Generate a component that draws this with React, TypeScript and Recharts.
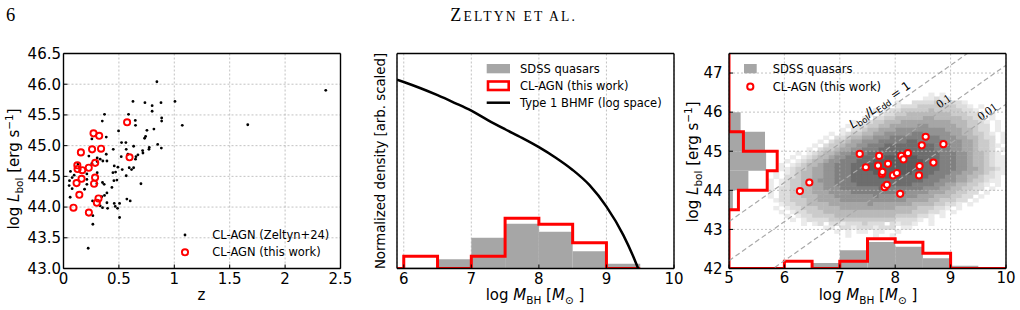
import React from 'react';
import {
  ComposedChart,
  Scatter,
  Line,
  XAxis,
  YAxis,
  CartesianGrid,
  ReferenceArea,
  ReferenceDot,
} from 'recharts';

const FONT = '"DejaVu Sans", Verdana, sans-serif';
const SERIF = '"Liberation Serif", "Times New Roman", serif';

// ---- left panel: redshift vs bolometric luminosity
const zeltyn24: number[][] = [
  [0.843, 46.04], [2.367, 45.9], [0.627, 45.72], [0.735, 45.7], [1.006, 45.72], [0.88, 45.7],
  [0.8, 45.65], [0.8, 45.56], [0.37, 45.51], [0.587, 45.51], [0.35, 45.4], [0.648, 45.41],
  [0.886, 45.45], [0.886, 45.4], [0.65, 45.33], [1.072, 45.33], [1.663, 45.34], [0.753, 45.25],
  [0.816, 45.27], [0.497, 45.24], [0.256, 45.11], [0.386, 45.14], [0.741, 45.15], [0.732, 45.12],
  [0.524, 45.05], [0.563, 45.05], [0.85, 45.02], [0.449, 44.94], [0.566, 44.94], [0.633, 44.99],
  [0.774, 44.97], [0.714, 44.92], [0.883, 44.96], [0.717, 44.88], [0.771, 44.94], [0.229, 44.83],
  [0.386, 44.86], [0.331, 44.78], [0.521, 44.82], [0.654, 44.82], [0.672, 44.85], [0.581, 44.86],
  [0.304, 44.8], [0.392, 44.75], [0.355, 44.75], [0.65, 44.78], [0.256, 44.71], [0.304, 44.74],
  [0.13, 44.7], [0.458, 44.67], [0.491, 44.65], [0.593, 44.64], [0.633, 44.64], [0.063, 44.58],
  [0.096, 44.52], [0.211, 44.54], [0.304, 44.56], [0.446, 44.56], [0.47, 44.57], [0.53, 44.61],
  [0.614, 44.61], [0.566, 44.51], [0.078, 44.48], [0.054, 44.43], [0.211, 44.45], [0.455, 44.43],
  [0.482, 44.44], [0.352, 44.4], [0.367, 44.37], [0.051, 44.35], [0.078, 44.3], [0.211, 44.37],
  [0.301, 44.38], [0.19, 44.29], [0.437, 44.32], [0.699, 44.38], [0.06, 44.16], [0.37, 44.19],
  [0.392, 44.23], [0.346, 44.17], [0.262, 44.1], [0.572, 44.13], [0.602, 44.1], [0.392, 44.07],
  [0.458, 44.06], [0.506, 44.06], [0.331, 44.02], [0.352, 43.99], [0.467, 44.01], [0.488, 43.98],
  [0.398, 43.98], [0.265, 43.86], [0.506, 43.83], [0.265, 43.72], [0.223, 43.33],
];
const clagnZ: number[][] = [
  [0.09, 43.99], [0.229, 43.91], [0.143, 44.2], [0.301, 44.07], [0.316, 44.14], [0.118, 44.39],
  [0.163, 44.46], [0.276, 44.38], [0.285, 44.48], [0.125, 44.68], [0.127, 44.62], [0.169, 44.6],
  [0.228, 44.64], [0.286, 44.72], [0.157, 44.89], [0.258, 44.94], [0.339, 44.95], [0.271, 45.2],
  [0.322, 45.16], [0.574, 45.38], [0.596, 44.81],
];
const zTicks = [0, 0.5, 1, 1.5, 2, 2.5];
const lumTicksLeft = [43, 43.5, 44, 44.5, 45, 45.5, 46, 46.5];

// ---- middle panel: BH mass distributions
const massEdges = [5, 5.5, 6, 6.5, 7, 7.5, 8, 8.5, 9, 9.5, 10];
const sdssMass = [0, 0, 0.03, 0.28, 0.93, 1.35, 1.11, 0.52, 0.14, 0];
const clagnMass = [0, 0, 0.37, 0, 0.37, 1.52, 1.34, 0.78, 0, 0];
const bhmfX = [5.9, 6.0, 6.25, 6.5, 6.75, 7.0, 7.25, 7.5, 7.75, 8.0, 8.25, 8.5, 8.75, 9.0, 9.25, 9.4, 9.47];
const bhmfY = [5.71, 5.64, 5.45, 5.24, 5.01, 4.77, 4.48, 4.21, 3.95, 3.67, 3.35, 2.98, 2.52, 1.87, 1.01, 0.35, 0];
const massTicks = [6, 7, 8, 9, 10];
const densityTicks = [0, 1, 2, 3, 4, 5, 6];

// ---- right panel: mass vs luminosity
const clagnMassLum: number[][] = [
  [6.28, 43.98], [6.45, 44.2], [7.36, 44.93], [7.47, 44.59], [7.69, 44.63], [7.71, 44.88],
  [7.76, 44.42], [7.77, 44.47], [7.87, 44.68], [7.81, 44.08], [7.85, 44.14], [7.96, 44.38],
  [8.03, 44.44], [8.09, 43.91], [8.11, 44.88], [8.15, 44.79], [8.23, 44.95], [8.43, 44.38],
  [8.44, 44.62], [8.48, 45.15], [8.55, 45.37], [8.69, 44.71], [8.87, 45.18],
];
const lumEdges = [42, 42.5, 43, 43.5, 44, 44.5, 45, 45.5, 46, 46.5, 47, 47.5];
const sdssLum = [0, 0, 0, 0.07, 0.35, 0.67, 0.65, 0.21, 0, 0, 0];
const clagnLum = [0, 0, 0, 0.17, 0.69, 0.87, 0.26, 0, 0, 0, 0];
const eddLabels = ['1', '0.1', '0.01'];
const eddOffset = [38.2, 37.2, 36.2];
const eddLabelPos = [[7.72, 46.19], [8.87, 46.29], [9.66, 46.02]];
const massTicksRight = [5, 6, 7, 8, 9, 10];
const lumTicksRight = [42, 43, 44, 45, 46, 47];

// SDSS 2D histogram, 0.1 dex cells, row 0 starts at 46.5 going down, columns from 5.7
// each row: [first column, levels] ('.' = empty, 1 light .. 9 dark)
const HEAT_X0 = 5.7;
const HEAT_TOP = 46.5;
const HEAT_STEP = 0.1;
const heatRows: [number, string][] = [
  [29, '1.1'],
  [28, '11211'],
  [23, '1..2222322221'],
  [21, '1.12223333333221.1'],
  [19, '1.12233333433333221'],
  [18, '1.1223344444444333221.1'],
  [17, '1.22334444455444443322.1'],
  [15, '1.12334445555555554443321.1'],
  [14, '1.223344555556655555443322.1'],
  [13, '1.2234455566666666655544322.1'],
  [11, '1.1233445566666776666655443321.1'],
  [10, '1.22344556667777777776665544322.1'],
  [9, '1.233455666777778877777666554332.1'],
  [8, '1.23345566777888888888777665543321'],
  [7, '1.23345566777888888888877766554332.1'],
  [5, '1.12344566777888889998888877766544321'],
  [4, '1.1234456677788889999998888777665443211'],
  [3, '1.12344566777888999999999888777665443211'],
  [2, '1.123445667778889999999999888777665443211'],
  [2, '11233455667778889999999999888777665543321'],
  [1, '1.1234455667778888999999988887776655443211'],
  [1, '1.223445566777888889999888887776655443221'],
  [0, '1.1233455666777888888888888877766655433211'],
  [0, '1.12334455667777888888888877776655443321.1'],
  [0, '1.2233445566677777778777777766655443322.1'],
  [0, '1.223344555666677777777776666555443322.1'],
  [0, '1.22334445556666666766666665554443322.1'],
  [1, '12233344555566666666666655554433322.1'],
  [2, '122334444555555565555555444433221.1'],
  [1, '1.122333444455555555554444333221.1'],
  [2, '1.1223334444444444444444333221.1'],
  [3, '1.1223333444444444443333221.1'],
  [4, '1.1222233333333333322221.1'],
  [6, '1.12.2212223222.21221..1'],
  [10, '11.2212221222.11'],
  [12, '1.1.11.11..1'],
  [14, '1....1..1'],
];
const heatGrays = ['', '#ebebeb', '#dcdcdc', '#cbcbcb', '#b9b9b9', '#a6a6a6', '#939393', '#808080', '#6d6d6d', '#5c5c5c'];

// ---- layout
const TOP = 53.5;
const PLOT_W = 277;
const PLOT_H = 215;
const BOTTOM_H = 310 - TOP - PLOT_H;
const RIGHT_PAD = 20;
const CELL_W = (HEAT_STEP * PLOT_W) / 5;
const CELL_H = (HEAT_STEP * PLOT_H) / 5.5;
const GRID = '#b3b3b3';
const RED = '#ff0000';
const BAR_GRAY = '#a6a6a6';

const TICK_LINE = { stroke: '#000', strokeWidth: 1 };
const AXIS_LINE = { stroke: '#000', strokeWidth: 1.4 };
const TICK_TEXT = { fill: '#000', fontSize: 15, fontFamily: FONT };

const pts = (arr: number[][]) => arr.map(([x, y]) => ({ x, y }));
const stepPoints = (edges: number[], vals: number[]) =>
  vals.flatMap((v, i) => [{ x: edges[i], y: v }, { x: edges[i + 1], y: v }]);
const stepPointsH = (edges: number[], vals: number[]) =>
  vals.flatMap((v, i) => [{ x: v, y: edges[i] }, { x: v, y: edges[i + 1] }]);

const heatCells = heatRows.flatMap(([start, row], r) =>
  row.split('').flatMap((c, k) =>
    c === '.'
      ? []
      : [{ x: HEAT_X0 + HEAT_STEP * (start + k + 0.5), y: HEAT_TOP - HEAT_STEP * (r + 0.5), v: Number(c) }]
  )
);

const dot = (p: any) => <circle cx={p.cx} cy={p.cy} r={1.4} fill="#000" />;
const ring = (p: any) => <circle cx={p.cx} cy={p.cy} r={3.1} fill="none" stroke={RED} strokeWidth={1.9} />;
const ringWhite = (p: any) => <circle cx={p.cx} cy={p.cy} r={3.1} fill="#fff" stroke={RED} strokeWidth={2} />;
const heatCell = (p: any) => (
  <rect
    x={p.cx - CELL_W / 2}
    y={p.cy - CELL_H / 2}
    width={CELL_W + 0.5}
    height={CELL_H + 0.5}
    fill={heatGrays[p.payload.v]}
  />
);

interface FrameOpts {
  xDomain: number[];
  xTicks: number[];
  yDomain: number[];
  yTicks: number[];
  yw: number;
  xMargin: number;
  yMargin: number;
  yLabels: boolean;
  yFmt?: (v: number) => string;
}

// bottom/left axes with labels, top/right mirrored, ticks pointing in
function frame(o: FrameOpts) {
  return [
    <XAxis key="xb" type="number" dataKey="x" domain={o.xDomain} ticks={o.xTicks} interval={0}
      allowDataOverflow height={BOTTOM_H} tickSize={-4} tickMargin={o.xMargin}
      tick={TICK_TEXT} axisLine={AXIS_LINE} tickLine={TICK_LINE} />,
    <XAxis key="xt" xAxisId="top" orientation="top" type="number" dataKey="x" domain={o.xDomain}
      ticks={o.xTicks} interval={0} allowDataOverflow height={1} tickSize={-4} tick={false}
      axisLine={AXIS_LINE} tickLine={TICK_LINE} />,
    <YAxis key="yl" type="number" dataKey="y" domain={o.yDomain} ticks={o.yTicks} interval={0}
      allowDataOverflow width={o.yw} tickSize={-4} tickMargin={o.yMargin}
      tick={o.yLabels ? TICK_TEXT : false} tickFormatter={o.yFmt} axisLine={AXIS_LINE} tickLine={TICK_LINE} />,
    <YAxis key="yr" yAxisId="right" orientation="right" type="number" dataKey="y" domain={o.yDomain}
      ticks={o.yTicks} interval={0} allowDataOverflow width={1} tickSize={-4} tick={false}
      axisLine={AXIS_LINE} tickLine={TICK_LINE} />,
  ];
}

const grid = <CartesianGrid stroke={GRID} strokeDasharray="2 2" strokeWidth={0.8} />;
const margin = { top: TOP - 1, right: RIGHT_PAD - 1, bottom: 0, left: 0 };

function LeftPanel() {
  const yw = 63.5;
  return (
    <div style={{ position: 'absolute', left: 63.5 - yw, top: 0 }}>
      <ComposedChart width={yw + PLOT_W + RIGHT_PAD} height={310} margin={margin}>
        {grid}
        {frame({ xDomain: [0, 2.5], xTicks: zTicks, yDomain: [43, 46.5], yTicks: lumTicksLeft,
          yw, xMargin: 9, yMargin: 6.5, yLabels: true, yFmt: (v) => v.toFixed(1) })}
        <Scatter data={pts(zeltyn24)} shape={dot} isAnimationActive={false} />
        <Scatter data={pts(clagnZ)} shape={ring} isAnimationActive={false} />
      </ComposedChart>
    </div>
  );
}

function MiddlePanel() {
  const yw = 30;
  const redPts = stepPoints(massEdges, clagnMass).filter((p) => p.x >= 5.5 && p.x <= 9.5);
  const bhmf = bhmfX.map((x, i) => ({ x, y: bhmfY[i] }));
  return (
    <div style={{ position: 'absolute', left: 396.5 - yw, top: 0 }}>
      <ComposedChart width={yw + PLOT_W + RIGHT_PAD} height={310} margin={margin}>
        {grid}
        {frame({ xDomain: [5.9, 10], xTicks: massTicks, yDomain: [0, 6.5], yTicks: densityTicks,
          yw, xMargin: 9, yMargin: 6, yLabels: false })}
        {sdssMass.map((v, i) =>
          v > 0 ? (
            <ReferenceArea key={i} x1={massEdges[i]} x2={massEdges[i + 1]} y1={0} y2={v}
              fill={BAR_GRAY} fillOpacity={1} stroke="none" ifOverflow="hidden" />
          ) : null
        )}
        <Line data={redPts} dataKey="y" type="linear" stroke={RED} strokeWidth={3}
          dot={false} activeDot={false} isAnimationActive={false} />
        <Line data={bhmf} dataKey="y" type="monotone" stroke="#000" strokeWidth={2.5}
          dot={false} activeDot={false} isAnimationActive={false} />
      </ComposedChart>
    </div>
  );
}

function EddLabel({ cx, cy, text }: any) {
  const sub = { fontSize: 8.5 };
  return (
    <text x={cx} y={cy} transform={`rotate(-35.1 ${cx} ${cy})`} textAnchor="middle" dy="0.35em"
      fontSize={12} fontFamily={text === '1' ? FONT : SERIF} fill="#000">
      {text === '1' ? (
        <>
          <tspan fontStyle="italic">L</tspan>
          <tspan {...sub} dy={2.5}>bol</tspan>
          <tspan dy={-2.5}>/</tspan>
          <tspan fontStyle="italic">L</tspan>
          <tspan {...sub} dy={2.5}>Edd</tspan>
          <tspan dy={-2.5}>{' = 1'}</tspan>
        </>
      ) : (
        text
      )}
    </text>
  );
}

function RightPanel() {
  const yw = 40;
  const left = 729 - yw;
  const w = yw + PLOT_W + RIGHT_PAD;
  const eddLines = eddOffset.map((o) => [
    { x: massTicksRight[0], y: massTicksRight[0] + o },
    { x: massTicksRight[5], y: massTicksRight[5] + o },
  ]);
  return (
    <>
      <div style={{ position: 'absolute', left, top: 0 }}>
        <ComposedChart width={w} height={310} margin={{ top: TOP, right: RIGHT_PAD, bottom: BOTTOM_H, left: yw }}>
          <XAxis type="number" dataKey="x" domain={[5, 10]} hide allowDataOverflow />
          <YAxis type="number" dataKey="y" domain={[42, 47.5]} hide allowDataOverflow />
          <Scatter data={heatCells} shape={heatCell} isAnimationActive={false} />
        </ComposedChart>
      </div>
      <div style={{ position: 'absolute', left, top: 0 }}>
        <ComposedChart width={w} height={310} margin={margin}>
          {grid}
          {frame({ xDomain: [5, 10], xTicks: massTicksRight, yDomain: [42, 47.5], yTicks: lumTicksRight,
            yw, xMargin: 7.5, yMargin: 10.5, yLabels: true })}
          <XAxis xAxisId="mx" type="number" dataKey="x" domain={[0, 5]} hide allowDataOverflow />
          <YAxis yAxisId="my" type="number" dataKey="y" domain={[0, 11]} hide allowDataOverflow />
          {sdssMass.map((v, i) =>
            v > 0 ? (
              <ReferenceArea key={'b' + i} yAxisId="my" x1={massEdges[i]} x2={massEdges[i + 1]} y1={0} y2={v}
                fill={BAR_GRAY} fillOpacity={1} stroke="none" ifOverflow="hidden" />
            ) : null
          )}
          {sdssLum.map((v, i) =>
            v > 0 ? (
              <ReferenceArea key={'l' + i} xAxisId="mx" x1={0} x2={v} y1={lumEdges[i]} y2={lumEdges[i + 1]}
                fill={BAR_GRAY} fillOpacity={1} stroke="none" ifOverflow="hidden" />
            ) : null
          )}
          <Line data={stepPoints(massEdges, clagnMass)} yAxisId="my" dataKey="y" type="linear" stroke={RED}
            strokeWidth={3} dot={false} activeDot={false} isAnimationActive={false} />
          <Line data={stepPointsH(lumEdges, clagnLum)} xAxisId="mx" dataKey="y" type="linear" stroke={RED}
            strokeWidth={3} dot={false} activeDot={false} isAnimationActive={false} />
          {eddLines.map((d, i) => (
            <Line key={'e' + i} data={d} dataKey="y" type="linear" stroke="#a8a8a8" strokeWidth={1.2}
              strokeDasharray="5 3" dot={false} activeDot={false} isAnimationActive={false} />
          ))}
          {eddLabels.map((t, i) => (
            <ReferenceDot key={'t' + i} x={eddLabelPos[i][0]} y={eddLabelPos[i][1]} r={0}
              ifOverflow="visible" shape={(p: any) => <EddLabel cx={p.cx} cy={p.cy} text={t} />} />
          ))}
          <Scatter data={pts(clagnMassLum)} shape={ringWhite} isAnimationActive={false} />
        </ComposedChart>
      </div>
    </>
  );
}

const SUB = 10.5;

function LbolLabel({ x, y }: { x: number; y: number }) {
  return (
    <text transform={`translate(${x},${y}) rotate(-90)`} textAnchor="middle" fontSize={15} fill="#000">
      {'log '}
      <tspan fontStyle="italic">L</tspan>
      <tspan fontSize={SUB} dy={3.5}>bol</tspan>
      <tspan dy={-3.5}>{' [erg s'}</tspan>
      <tspan fontSize={SUB} dy={-6}>−1</tspan>
      <tspan dy={6}>]</tspan>
    </text>
  );
}

function MbhLabel({ x, y }: { x: number; y: number }) {
  return (
    <text x={x} y={y} textAnchor="middle" fontSize={15} fill="#000">
      {'log '}
      <tspan fontStyle="italic">M</tspan>
      <tspan fontSize={SUB} dy={3.5}>BH</tspan>
      <tspan dy={-3.5}>{' ['}</tspan>
      <tspan fontStyle="italic">M</tspan>
      <tspan fontSize={SUB} dy={3.5}>⊙</tspan>
      <tspan dy={-3.5}>{' ]'}</tspan>
    </text>
  );
}

function Overlay() {
  const lg = { fontSize: 11.5, fill: '#000', dy: '0.35em' };
  return (
    <svg width={1020} height={310} fontFamily={FONT}
      style={{ position: 'absolute', left: 0, top: 0, pointerEvents: 'none' }}>
      <text x={6} y={20.7} fontFamily={SERIF} fontSize={18.5} fill="#000">6</text>
      <text x={513.7} y={20.7} textAnchor="middle" fontFamily={SERIF} fontSize={18} letterSpacing={2.2} fill="#000">
        Z<tspan fontSize={13.6}>ELTYN ET AL.</tspan>
      </text>

      {/* left legend */}
      <circle cx={185} cy={235} r={1.4} fill="#000" />
      <text x={212.3} y={235} {...lg}>CL-AGN (Zeltyn+24)</text>
      <circle cx={185} cy={252.3} r={3.1} fill="none" stroke={RED} strokeWidth={1.9} />
      <text x={212.3} y={252.3} {...lg}>CL-AGN (this work)</text>

      {/* middle legend */}
      <rect x={486.7} y={64} width={23.3} height={9.3} fill={BAR_GRAY} />
      <text x={520} y={69.3} {...lg}>SDSS quasars</text>
      <rect x={488} y={81.5} width={20.7} height={8.5} fill="#fff" stroke={RED} strokeWidth={2.6} />
      <text x={520} y={86} {...lg}>CL-AGN (this work)</text>
      <line x1={486.7} x2={510} y1={102.7} y2={102.7} stroke="#000" strokeWidth={2.5} />
      <text x={520} y={102.7} {...lg}>Type 1 BHMF (log space)</text>

      {/* right legend */}
      <rect x={744} y={64} width={12.7} height={9.3} fill={BAR_GRAY} />
      <text x={772.7} y={69.3} {...lg}>SDSS quasars</text>
      <circle cx={750.3} cy={86.7} r={3.1} fill="#fff" stroke={RED} strokeWidth={2} />
      <text x={772.7} y={86.7} {...lg}>CL-AGN (this work)</text>

      {/* axis labels */}
      <text x={201.5} y={300} textAnchor="middle" fontSize={15} fill="#000">z</text>
      <LbolLabel x={19} y={169} />
      <MbhLabel x={535} y={300} />
      <text transform="translate(385,161) rotate(-90)" textAnchor="middle" fontSize={13.3} fill="#000">
        Normalized density [arb. scaled]
      </text>
      <MbhLabel x={868} y={300} />
      <LbolLabel x={698} y={162} />
    </svg>
  );
}

export default function App() {
  return (
    <div style={{ position: 'absolute', left: 0, top: 0, width: 1020, height: 310, background: '#fff', overflow: 'hidden' }}>
      <LeftPanel />
      <MiddlePanel />
      <RightPanel />
      <Overlay />
    </div>
  );
}
